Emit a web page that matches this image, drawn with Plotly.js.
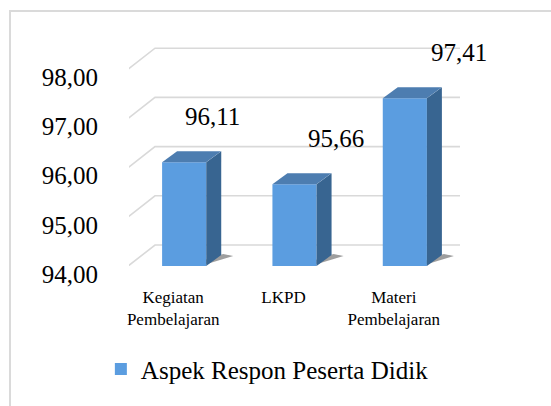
<!DOCTYPE html>
<html>
<head>
<meta charset="utf-8">
<script src="https://cdn.plot.ly/plotly-3.0.1.min.js"></script>
</head>
<body style="margin:0">
<div id="chart"></div>
<script>
// ---- data ----
const categories = ["Kegiatan<br>Pembelajaran", "LKPD", "Materi<br>Pembelajaran"];
const values = [96.11, 95.66, 97.41];
const labels = ["96,11", "95,66", "97,41"];
const seriesName = "Aspek Respon Peserta Didik";
const yTicks = [94, 95, 96, 97, 98];

// ---- geometry / style ----
const W = 551, H = 406;
const M = {l: 129, r: 91, t: 20, b: 140};
const yMin = 94, yMax = 99;
const plotW = W - M.l - M.r;
const plotH = H - M.t - M.b;
const pxPerUnit = plotH / (yMax - yMin);
const barW = 0.4;
const frontPx = 44;         // front face width in px (approx)
const depthX = 15, depthY = 11;   // bar depth offsets in px
const dv = depthY / pxPerUnit;
const gridColor = "#d9d9d9";
const FONT = "Liberation Serif";

const xs = categories.map((c, i) => i);

const shapes = [];
// outer frame (light grey border of the chart area)
shapes.push({
  type: "rect", layer: "below", xref: "paper", yref: "paper",
  x0: (10 - M.l) / plotW, x1: (570 - M.l) / plotW,
  y0: (H - M.b - 430) / plotH, y1: (H - M.b - 11) / plotH,
  line: {color: "#dadada", width: 2}, fillcolor: "rgba(0,0,0,0)"
});
// back wall grid lines + diagonals (floor and side wall)
yTicks.forEach((v, k) => {
  const path = (k === 0)
    ? "M -11,-8 L 26,21 L 356,21 M -11,-8 L 318,-8"
    : "M -11,-8 L 26,21 L 356,21";
  shapes.push({
    type: "path", layer: "below",
    xref: "x", yref: "y",
    xsizemode: "pixel", xanchor: -0.5,
    ysizemode: "pixel", yanchor: v,
    path: path,
    line: {color: gridColor, width: 1.6}
  });
});

// 3D faces for each bar
values.forEach((v, i) => {
  const xr = i + barW / 2;
  const xl = i - barW / 2;
  // soft shadow at base
  shapes.push({
    type: "path", layer: "below",
    xref: "x", yref: "y",
    xsizemode: "pixel", xanchor: xr,
    path: `M -6,${yMin} L ${depthX + 12},${yMin + dv * 0.9} L ${depthX + 2},${yMin + dv * 1.1} L 0,${yMin + dv*0.6} Z`,
    fillcolor: "rgba(40,40,40,0.45)", line: {width: 0}
  });
  // side face
  shapes.push({
    type: "path", layer: "above",
    xref: "x", yref: "y",
    xsizemode: "pixel", xanchor: xr,
    path: `M 0,${v} L ${depthX},${v + dv} L ${depthX},${yMin + dv} L 0,${yMin} Z`,
    fillcolor: "#386591", line: {width: 0}
  });
  // top face
  shapes.push({
    type: "path", layer: "above",
    xref: "x", yref: "y",
    xsizemode: "pixel", xanchor: xl,
    path: `M 0,${v} L ${depthX},${v + dv} L ${frontPx + depthX},${v + dv} L ${frontPx},${v} Z`,
    fillcolor: "#4d7db0", line: {width: 0}
  });
});

const annotations = values.map((v, i) => ({
  x: i, y: v, xref: "x", yref: "y",
  text: labels[i], showarrow: false,
  xshift: 28 + 13 * i, yshift: 46,
  font: {family: FONT, size: 25, color: "#000"}
}));

const trace = {
  type: "bar",
  x: xs, y: values,
  width: barW,
  name: seriesName,
  marker: {color: "#5b9de0", line: {width: 0}},
  hoverinfo: "skip"
};

const layout = {
  width: W, height: H,
  margin: M,
  paper_bgcolor: "#fff", plot_bgcolor: "rgba(0,0,0,0)",
  xaxis: {
    range: [-0.5, 2.5],
    tickmode: "array", tickvals: xs, ticktext: categories,
    showgrid: false, zeroline: false, showline: false, ticks: "",
    ticklabelshift: -11, ticklabelstandoff: 19,
    tickfont: {family: FONT, size: 17, color: "#000"},
    fixedrange: true
  },
  yaxis: {
    range: [yMin, yMax],
    tickmode: "array", tickvals: yTicks,
    ticktext: yTicks.map(t => t.toFixed(2).replace(".", ",")),
    showgrid: false, zeroline: false, showline: false, ticks: "",
    ticklabelshift: 8, ticklabelstandoff: 30,
    tickfont: {family: FONT, size: 25, color: "#000"},
    fixedrange: true
  },
  showlegend: true,
  legend: {
    orientation: "h",
    x: -0.085, xanchor: "left",
    y: -0.42, yanchor: "middle",
    font: {family: FONT, size: 25, color: "#000"},
    bgcolor: "rgba(0,0,0,0)"
  },
  shapes: shapes,
  annotations: annotations,
  bargap: 0.6
};

Plotly.newPlot("chart", [trace], layout, {displayModeBar: false, staticPlot: true});
</script>
</body>
</html>
